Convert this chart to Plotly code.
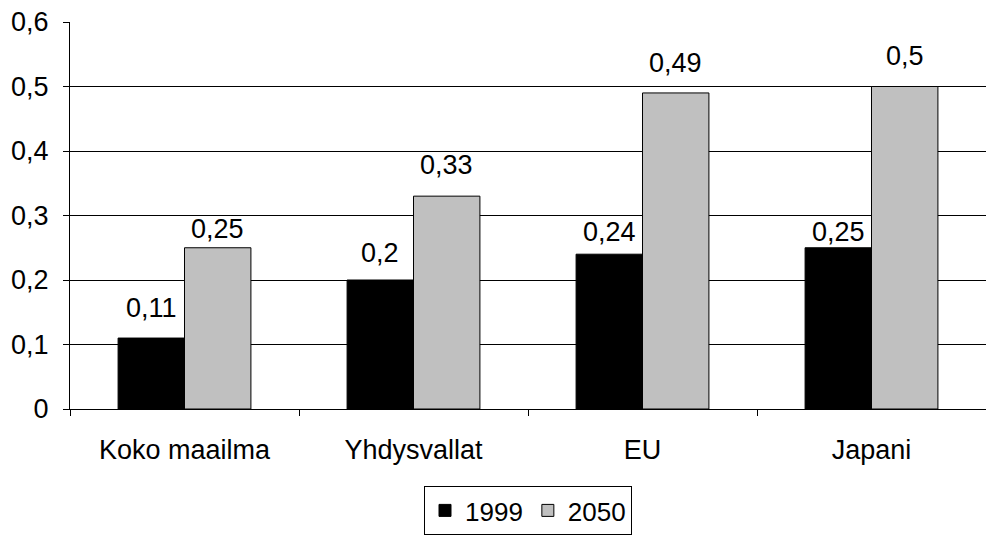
import plotly.graph_objects as go

categories = ["Koko maailma", "Yhdysvallat", "EU", "Japani"]
series_names = ["1999", "2050"]
values_1999 = [0.11, 0.2, 0.24, 0.25]
values_2050 = [0.25, 0.33, 0.49, 0.5]
y_ticks = [0, 0.1, 0.2, 0.3, 0.4, 0.5, 0.6]

# label vertical offsets (px, style only)
label_shift_1999 = [13, 10, 5, -1]
label_shift_2050 = [2, 14, 13, 14]

FONT = "Liberation Sans, Arial, sans-serif"
FS = 27
W, H = 986, 538
ML, MR, MT, MB = 70, 0, 22, 129
BARGAP = 0.42

fig = go.Figure()
fig.add_trace(go.Bar(x=categories, y=values_1999, name=series_names[0],
                     marker=dict(color="#000000", line=dict(color="#000000", width=1))))
fig.add_trace(go.Bar(x=categories, y=values_2050, name=series_names[1],
                     marker=dict(color="#C0C0C0", line=dict(color="#000000", width=1))))

plot_w = W - ML - MR
cat_w = plot_w / len(categories)
bar_w = cat_w * (1 - BARGAP) / 2
for vals, shifts, sgn in ((values_1999, label_shift_1999, -1),
                          (values_2050, label_shift_2050, 1)):
    for c, v, s in zip(categories, vals, shifts):
        fig.add_annotation(x=c, y=v, text=f"{v:g}".replace(".", ","),
                           showarrow=False, xshift=sgn * bar_w / 2, yshift=s,
                           yanchor="bottom", font=dict(size=FS, color="black", family=FONT))

fig.update_layout(
    width=W, height=H,
    margin=dict(l=ML, r=MR, t=MT, b=MB, autoexpand=False),
    paper_bgcolor="white", plot_bgcolor="white",
    barmode="group", bargap=BARGAP, bargroupgap=0,
    separators=", ",
    font=dict(family=FONT, size=FS, color="black"),
    showlegend=True,
    legend=dict(orientation="h", x=0.5, xanchor="center", xref="paper",
                y=3 / H, yanchor="bottom", yref="container",
                bordercolor="black", borderwidth=1, bgcolor="white",
                font=dict(size=26), itemwidth=30, tracegroupgap=0),
    xaxis=dict(showline=True, linecolor="black", linewidth=1, automargin=False,
               ticks="outside", tickson="boundaries", ticklen=6, tickcolor="black",
               showgrid=False, ticklabelstandoff=17),
    yaxis=dict(range=[0, 0.6], tickvals=y_ticks, showline=True, linecolor="black",
               linewidth=1, ticks="outside", ticklen=6, tickcolor="black", automargin=False,
               showgrid=True, gridcolor="black", gridwidth=1, zeroline=False,
               ticklabelstandoff=9,
               ticktext=[f"{t:g}".replace(".", ",") for t in y_ticks]),
)

fig.write_html("out.html", config={"displayModeBar": False},
               post_script="document.body.style.margin='0';document.body.style.padding='0';")
